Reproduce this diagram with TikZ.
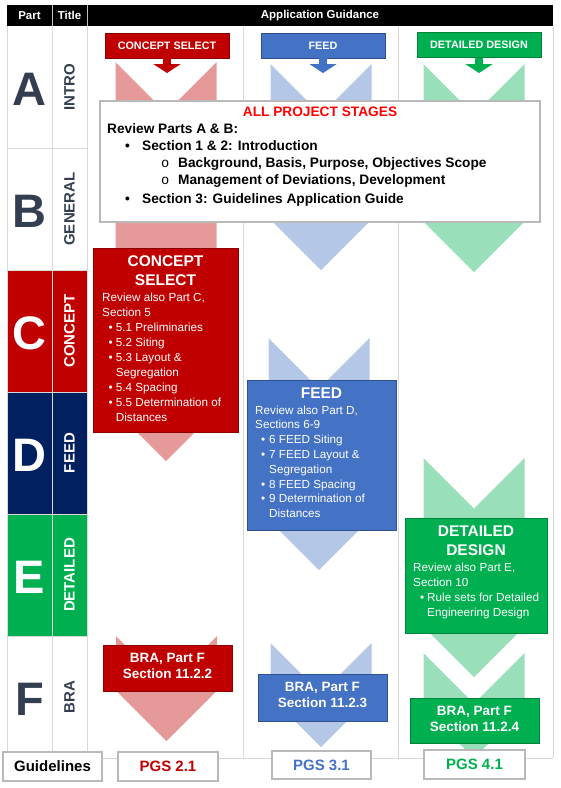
\documentclass[tikz,border=0pt]{standalone}
\usepackage{fontspec}
\setmainfont{Liberation Sans}
\newfontfamily\monofam{Liberation Mono}
\usetikzlibrary{arrows.meta}

\definecolor{conceptRed}{HTML}{C00000}
\definecolor{conceptDark}{HTML}{8C0000}
\definecolor{feedBlue}{HTML}{4472C4}
\definecolor{feedDark}{HTML}{2F528F}
\definecolor{feedNavy}{HTML}{002060}
\definecolor{ddGreen}{HTML}{00B050}
\definecolor{ddDark}{HTML}{00843C}
\definecolor{slate}{HTML}{333F50}
\definecolor{pinkC}{HTML}{E69999}
\definecolor{blueL}{HTML}{B4C7E7}
\definecolor{greenL}{HTML}{99DFB9}
\definecolor{allRed}{HTML}{FF0000}
\definecolor{gridGray}{HTML}{D9D9D9}

\begin{document}
\begin{tikzpicture}
  [x=1pt, y=-1pt,
   every node/.style={inner sep=0pt},
   grid/.style={draw=gridGray, line width=0.6pt},
   hdrtxt/.style={text=white, font=\fontsize{11.5}{13}\selectfont\bfseries},
   partletter/.style={font=\fontsize{47}{50}\selectfont\bfseries},
   parttitle/.style={rotate=90, font=\fontsize{15}{17}\selectfont\bfseries},
   tag/.style={minimum width=124pt, minimum height=25pt, line width=0.6pt, text=white,
               font=\fontsize{10.8}{12}\selectfont\bfseries},
   tagarrow/.style={line width=8pt, -{Triangle[width=27pt,length=9pt]}},
   stagebox/.style={anchor=north west, line width=1pt},
   boxhead/.style={anchor=base, text=white, font=\fontsize{15.5}{18}\selectfont\bfseries},
   boxline/.style={anchor=base west, text=white, font=\fontsize{11.7}{14}\selectfont},
   brabox/.style={minimum width=129pt, line width=1pt},
   bratext/.style={align=center, text=white, font=\fontsize{13.5}{16}\selectfont\bfseries},
   glowbox/.style={fill=white, draw=gray!55, line width=1.8pt},
   apsline/.style={anchor=base west, font=\fontsize{13.7}{16}\selectfont\bfseries},
   pgs/.style={glowbox, minimum width=100pt, minimum height=29pt,
               font=\fontsize{15}{17}\selectfont\bfseries}]
  \useasboundingbox (0,0) rectangle (561,788);

  % header row
  \fill[black] (7,5) rectangle (553,26);
  \draw[gray!50] (52,5) -- (52,26) (87,5) -- (87,26);
  \node[hdrtxt] (hPart) at (29.5,15.5) {Part};
  \node[hdrtxt] (hTitle) at (69.5,15.5) {Title};
  \node[hdrtxt] (hGuide) at (320,15.5) {Application Guidance};

  % parts A to F
  \foreach \lt/\ptitle/\fc/\tc [count=\i from 0] in
    {A/INTRO/white/slate, B/GENERAL/white/slate, C/CONCEPT/conceptRed/white,
     D/FEED/feedNavy/white, E/DETAILED/ddGreen/white, F/BRA/white/slate}
  {
    \pgfmathsetmacro{\yt}{26+122*\i}
    \fill[\fc] (7,\yt) rectangle (87,\yt+122);
    \node[partletter, text=\tc] (part\lt) at (29.5,\yt+63) {\lt};
    \node[parttitle, text=\tc] (title\lt) at (69.5,\yt+61) {\ptitle};
  }

  % grid
  \foreach \x in {7,52,87,243,398,553}
    \draw[grid] (\x,26) -- (\x,758);
  \foreach \y in {148,270,392,514,636}
    \draw[grid] (7,\y) -- (87,\y);
  \draw[grid] (7,758) -- (553,758);

  % chevrons: centre / top / tip
  \foreach \cx/\ya/\yb/\shade in
    {166/62/461/pinkC, 166.5/636/741/pinkC,
     321/64/270/blueL, 319/338/570/blueL, 321/643/747/blueL,
     474/64/272/greenL, 474/458/677/greenL, 474/653/758/greenL}
    \fill[\shade] (\cx-50.5,\ya) -- (\cx,\ya+50.5) -- (\cx+50.5,\ya)
      -- (\cx+50.5,\yb-50.5) -- (\cx,\yb) -- (\cx-50.5,\yb-50.5) -- cycle;

  % stage tags
  \node[tag, fill=conceptRed, draw=conceptDark] (tagCS) at (167,45.5) {CONCEPT SELECT};
  \node[tag, fill=feedBlue, draw=feedDark] (tagFEED) at (323,45.5) {FEED};
  \node[tag, fill=ddGreen, draw=ddDark] (tagDD) at (479,45) {DETAILED DESIGN};
  \coordinate (tipCS) at (167,73);
  \coordinate (tipFEED) at (323,73);
  \coordinate (tipDD) at (479,73);
  \draw[tagarrow, conceptRed] (tagCS) -- (tipCS);
  \draw[tagarrow, feedBlue] (tagFEED) -- (tipFEED);
  \draw[tagarrow, ddGreen] (tagDD) -- (tipDD);

  % all project stages
  \node[glowbox, anchor=north west, minimum width=440pt, minimum height=121pt] (aps) at (99,100) {};
  \node[apsline, anchor=base, text=allRed] (apsHead) at (320,116) {ALL PROJECT STAGES};
  \node[apsline] (apsReview) at (107,133.3) {Review Parts A \& B:};
  \node[apsline] (apsDot1) at (125,150.7) {\textbullet};
  \node[apsline] (apsSec12) at (142,150.7) {Section 1 \& 2: Introduction};
  \node[apsline] (apsRing1) at (161,167.7) {\monofam\mdseries o};
  \node[apsline] (apsBack) at (178,167.7) {Background, Basis, Purpose, Objectives Scope};
  \node[apsline] (apsRing2) at (161,184.5) {\monofam\mdseries o};
  \node[apsline] (apsMgmt) at (178,184.5) {Management of Deviations, Development};
  \node[apsline] (apsDot2) at (125,203) {\textbullet};
  \node[apsline] (apsSec3) at (142,203) {Section 3: Guidelines Application Guide};

  % concept select
  \node[stagebox, fill=conceptRed, draw=conceptDark, minimum width=145pt, minimum height=184pt] (csBox) at (93,248) {};
  \node[boxhead] (csHead1) at (165.5,266) {CONCEPT};
  \node[boxhead] (csHead2) at (165.5,285.7) {SELECT};
  \node[boxline] (csReview) at (102,301) {Review also Part C,};
  \node[boxline] (csSec) at (102,316) {Section 5};
  \foreach \yy/\txt [count=\k] in {331/5.1 Preliminaries, 346/5.2 Siting, 361/5.3 Layout \&,
      376/Segregation, 391/5.4 Spacing, 406/5.5 Determination of, 421/Distances}
    \node[boxline] (csL\k) at (115.7,\yy) {\txt};
  \foreach \yy [count=\k] in {331,346,361,391,406}
    \node[boxline] (csDot\k) at (108.3,\yy) {\textbullet};

  % feed
  \node[stagebox, fill=feedBlue, draw=feedDark, minimum width=149pt, minimum height=150pt] (feedBox) at (247,380) {};
  \node[boxhead] (feedHead) at (321.5,398.3) {FEED};
  \node[boxline] (feedReview) at (255,414) {Review also Part D,};
  \node[boxline] (feedSec) at (255,428.8) {Sections 6-9};
  \foreach \yy/\txt [count=\k] in {443.6/6 FEED Siting, 458.4/7 FEED Layout \&, 473.2/Segregation,
      488/8 FEED Spacing, 502.8/9 Determination of, 517.6/Distances}
    \node[boxline] (feedL\k) at (269,\yy) {\txt};
  \foreach \yy [count=\k] in {443.6,458.4,488,502.8}
    \node[boxline] (feedDot\k) at (261,\yy) {\textbullet};

  % detailed design
  \node[stagebox, fill=ddGreen, draw=ddDark, minimum width=142pt, minimum height=115pt] (ddBox) at (405,518) {};
  \node[boxhead] (ddHead1) at (476,536.7) {DETAILED};
  \node[boxhead] (ddHead2) at (476,555.7) {DESIGN};
  \node[boxline] (ddReview) at (413,571.5) {Review also Part E,};
  \node[boxline] (ddSec) at (413,586.5) {Section 10};
  \node[boxline] (ddDot) at (420,601.5) {\textbullet};
  \node[boxline] (ddRule1) at (427,601.5) {Rule sets for Detailed};
  \node[boxline] (ddRule2) at (427,616.5) {Engineering Design};

  % BRA boxes
  \node[brabox, fill=conceptRed, draw=conceptDark, minimum height=46pt] (braCS) at (167.5,668) {};
  \node[bratext] (braCStxt) at ([yshift=2.5pt]braCS.center) {BRA, Part F\\Section 11.2.2};
  \node[brabox, fill=feedBlue, draw=feedDark, minimum height=47pt] (braFEED) at (322.5,697.5) {};
  \node[bratext] (braFEEDtxt) at ([yshift=2.5pt]braFEED.center) {BRA, Part F\\Section 11.2.3};
  \node[brabox, fill=ddGreen, draw=ddDark, minimum height=45pt] (braDD) at (474.5,720.5) {};
  \node[bratext] (braDDtxt) at ([yshift=2pt]braDD.center) {BRA, Part F\\Section 11.2.4};

  % guidelines row
  \node[pgs, minimum width=99pt] (pgsGuide) at (52.5,766.5) {Guidelines};
  \node[pgs, text=conceptRed] (pgsCS) at (168,766.5) {PGS 2.1};
  \node[pgs, text=feedBlue, minimum width=99pt, minimum height=28pt] (pgsFEED) at (321.5,765) {PGS 3.1};
  \node[pgs, text=ddGreen, minimum width=101pt] (pgsDD) at (474.5,764.5) {PGS 4.1};
\end{tikzpicture}
\end{document}
